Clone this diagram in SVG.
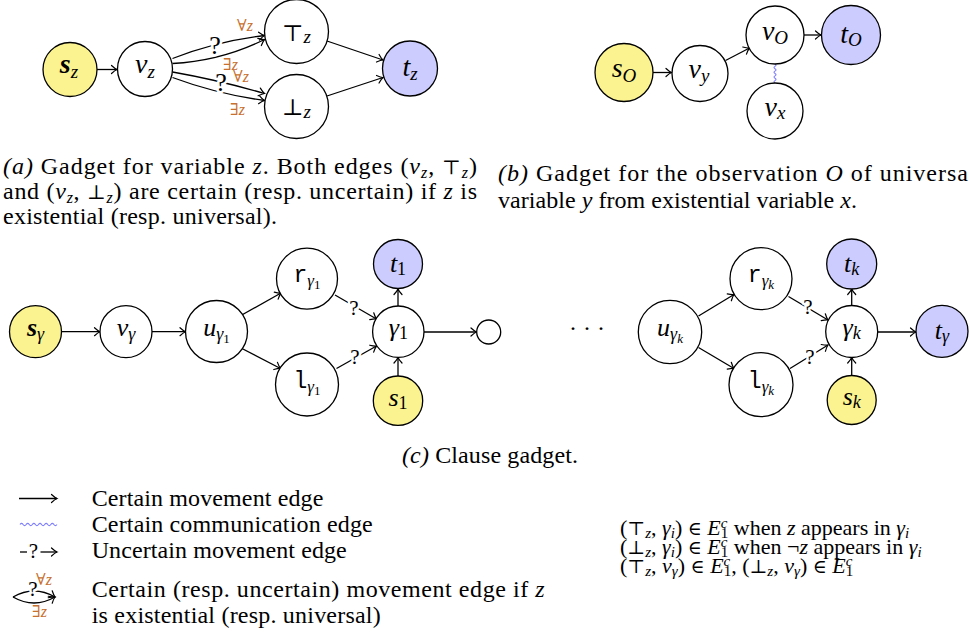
<svg xmlns="http://www.w3.org/2000/svg" width="969" height="636" viewBox="0 0 969 636">
<defs>
<style>
text{font-family:"Liberation Serif","Times New Roman",serif;fill:#000}
.i{font-style:italic}
.bi{font-style:italic;font-weight:bold}
.mono{font-family:"Liberation Mono","Courier New",monospace;font-style:normal}
.sym{font-family:"DejaVu Serif","DejaVu Sans",serif;font-style:normal}
.c{text-anchor:middle}
.nd{fill:#fff;stroke:#000;stroke-width:1.3}
.yl{fill:#FBF38F}
.bl{fill:#CCCCFF}
.e{fill:none;stroke:#000;stroke-width:1.3;marker-end:url(#ar)}
.ln{fill:none;stroke:#000;stroke-width:1.3}
.w{fill:none;stroke:#8080FF;stroke-width:1.1}
.q{font-size:21px;paint-order:stroke;stroke:#fff;stroke-width:5px;stroke-linejoin:round;text-anchor:middle}
.qa{font-size:26px}
.or{fill:#C8702E;font-size:16px}
.lb{font-size:28px}
.cl{font-size:26px}
.cap{font-size:24px}
.rl{font-size:22px}
</style>
<marker id="ar" viewBox="-7 -5 8 10" refX="0" refY="0" markerWidth="8" markerHeight="10" markerUnits="userSpaceOnUse" orient="auto" overflow="visible">
<path d="M-5.5,-4 Q-2,-0.8 0,0 Q-2,0.8 -5.5,4" fill="none" stroke="#000" stroke-width="1.2" stroke-linecap="round"/>
</marker>
</defs>
<rect width="969" height="636" fill="#fff"/>

<g id="connectors">
<path class="e" d="M97,69.5 L117,69.5"/>
<path class="e" d="M172.5,58.5 Q217,41 264.5,35.5"/>
<path class="e" d="M172.5,63.5 Q221,61 264.5,39.5"/>
<path class="e" d="M172.5,72 Q218,80 264.5,93.5"/>
<path class="e" d="M172.5,77.5 Q217,94 264.5,100.5"/>
<path class="e" d="M327,41 L383,60"/>
<path class="e" d="M327,96 L383,77.5"/>
<text class="q qa" x="215" y="54">?</text>
<text class="q qa" x="221" y="91">?</text>
<text class="or" x="237" y="31"><tspan class="sym">∀</tspan><tspan class="i">z</tspan></text>
<text class="or" x="223" y="70"><tspan class="sym">∃</tspan><tspan class="i">z</tspan></text>
<text class="or" x="233" y="82"><tspan class="sym">∀</tspan><tspan class="i">z</tspan></text>
<text class="or" x="230" y="115"><tspan class="sym">∃</tspan><tspan class="i">z</tspan></text>

<path class="e" d="M653,72.5 L671.5,72.5"/>
<path class="e" d="M725.5,60.5 L749.5,48"/>
<path class="e" d="M804,35 L821,35"/>
<path class="w" d="M775,64 q2,1.19 0,2.375 q-2,1.19 0,2.375 q2,1.19 0,2.375 q-2,1.19 0,2.375 q2,1.19 0,2.375 q-2,1.19 0,2.375 q2,1.19 0,2.375 q-2,1.19 0,2.375"/>

<path class="e" d="M61.5,331.7 L100,331.7"/>
<path class="e" d="M152,331.7 L185.5,331.7"/>
<path class="e" d="M240,316 L281,293"/>
<path class="e" d="M240,347.5 L280.5,368.5"/>
<path class="e" d="M335,295 L376.5,319"/>
<path class="e" d="M336.5,368.5 L376.5,346"/>
<text class="q" x="354" y="315">?</text>
<text class="q" x="355" y="364">?</text>
<path class="e" d="M398,306 L398,289"/>
<path class="e" d="M398,376 L398,357.5"/>
<path class="e" d="M424,332 L476.5,332"/>

<path class="e" d="M698.5,316 L734,294.5"/>
<path class="e" d="M698.5,347.5 L734,368.5"/>
<path class="e" d="M788.5,296.5 L828,320"/>
<path class="e" d="M790,368.5 L828,345"/>
<text class="q" x="808" y="314">?</text>
<text class="q" x="810" y="364">?</text>
<path class="e" d="M851.7,305.5 L851.7,289"/>
<path class="e" d="M851.7,375.5 L851.7,357.5"/>
<path class="e" d="M877.7,332 L916,332" stroke-width="1.6"/>
</g>

<g id="n-sz"><circle class="nd yl" cx="70" cy="69.5" r="27"/><text class="lb c" x="69" y="73"><tspan class="bi">s</tspan><tspan class="i" font-size="19" dy="5">z</tspan></text></g>
<g id="n-vz"><circle class="nd" cx="145" cy="69" r="27.5"/><text class="lb c" x="145" y="72.5"><tspan class="i">v</tspan><tspan class="i" font-size="19" dy="5">z</tspan></text></g>
<g id="n-topz"><circle class="nd" cx="296.5" cy="31.5" r="32"/><text class="lb c" x="296.5" y="40.5"><tspan class="sym" font-size="23">⊤</tspan><tspan class="i" font-size="19" dy="2">z</tspan></text></g>
<g id="n-botz"><circle class="nd" cx="296.5" cy="106.5" r="32"/><text class="lb c" x="296.5" y="114.5"><tspan class="sym" font-size="23">⊥</tspan><tspan class="i" font-size="19" dy="3">z</tspan></text></g>
<g id="n-tz"><circle class="nd bl" cx="410" cy="68.5" r="27.5"/><text class="lb c" x="410" y="76"><tspan class="i">t</tspan><tspan class="i" font-size="19" dy="4">z</tspan></text></g>

<g id="n-sO"><circle class="nd yl" cx="624" cy="72.5" r="29"/><text class="lb c" x="624" y="77"><tspan class="i">s</tspan><tspan class="i" font-size="19" dy="5">O</tspan></text></g>
<g id="n-vy"><circle class="nd" cx="700" cy="73.5" r="28"/><text class="lb c" x="699" y="77.5"><tspan class="i">v</tspan><tspan class="i" font-size="19" dy="4">y</tspan></text></g>
<g id="n-vO"><circle class="nd" cx="775" cy="35" r="29"/><text class="lb c" x="775" y="39.5"><tspan class="i">v</tspan><tspan class="i" font-size="19" dy="4">O</tspan></text></g>
<g id="n-tO"><circle class="nd bl" cx="851" cy="35" r="29.5"/><text class="lb c" x="851" y="43"><tspan class="i">t</tspan><tspan class="i" font-size="19" dy="3">O</tspan></text></g>
<g id="n-vx"><circle class="nd" cx="775" cy="111" r="28"/><text class="lb c" x="775" y="115.5"><tspan class="i">v</tspan><tspan class="i" font-size="19" dy="3">x</tspan></text></g>

<g id="n-sg"><circle class="nd yl" cx="35.5" cy="331.7" r="26"/><text class="cl c" x="35.5" y="335.5"><tspan class="bi">s</tspan><tspan class="i" font-size="18" dy="4">γ</tspan></text></g>
<g id="n-vg"><circle class="nd" cx="126" cy="331.7" r="26"/><text class="cl c" x="126" y="335.5"><tspan class="i">v</tspan><tspan class="i" font-size="18" dy="4">γ</tspan></text></g>
<g id="n-ug1"><circle class="nd" cx="216.5" cy="331.5" r="31"/><text class="cl c" x="216.5" y="335.5"><tspan class="i">u</tspan><tspan class="i" font-size="18" dy="4">γ</tspan><tspan font-size="13" dy="3">1</tspan></text></g>
<g id="n-r1"><circle class="nd" cx="307" cy="278.7" r="30.5"/><text class="cl c" x="307" y="281.5"><tspan class="mono" font-size="23">r</tspan><tspan class="i" font-size="17" dy="4">γ</tspan><tspan font-size="13" dy="3">1</tspan></text></g>
<g id="n-l1"><circle class="nd" cx="307" cy="384.5" r="31.5"/><text class="cl c" x="307" y="387.5"><tspan class="mono" font-size="23">l</tspan><tspan class="i" font-size="17" dy="4">γ</tspan><tspan font-size="13" dy="3">1</tspan></text></g>
<g id="n-t1"><circle class="nd bl" cx="398" cy="264" r="24.5"/><text class="cl c" x="398" y="271.5"><tspan class="i">t</tspan><tspan font-size="18" dy="3">1</tspan></text></g>
<g id="n-g1"><circle class="nd" cx="398.3" cy="331.7" r="25.7"/><text class="cl c" x="398.3" y="335.5"><tspan class="i">γ</tspan><tspan font-size="18" dy="3">1</tspan></text></g>
<g id="n-s1"><circle class="nd yl" cx="398" cy="400.7" r="24.7"/><text class="cl c" x="398" y="405.5"><tspan class="i">s</tspan><tspan font-size="18" dy="3">1</tspan></text></g>
<g id="n-end1"><circle class="nd" cx="488.7" cy="332" r="12"/></g>
<g id="dots"><text class="cap c" x="587" y="336">· · ·</text></g>
<g id="n-ugk"><circle class="nd" cx="670" cy="332" r="31.7"/><text class="cl c" x="670" y="336"><tspan class="i">u</tspan><tspan class="i" font-size="18" dy="4">γ</tspan><tspan class="i" font-size="13" dy="3">k</tspan></text></g>
<g id="n-rk"><circle class="nd" cx="761" cy="278.7" r="31"/><text class="cl c" x="761" y="281.5"><tspan class="mono" font-size="23">r</tspan><tspan class="i" font-size="17" dy="4">γ</tspan><tspan class="i" font-size="13" dy="3">k</tspan></text></g>
<g id="n-lk"><circle class="nd" cx="761" cy="384.7" r="32"/><text class="cl c" x="761" y="387.5"><tspan class="mono" font-size="23">l</tspan><tspan class="i" font-size="17" dy="4">γ</tspan><tspan class="i" font-size="13" dy="3">k</tspan></text></g>
<g id="n-tk"><circle class="nd bl" cx="851.7" cy="264" r="25"/><text class="cl c" x="851.7" y="271.5"><tspan class="i">t</tspan><tspan class="i" font-size="18" dy="3">k</tspan></text></g>
<g id="n-gk"><circle class="nd" cx="851.7" cy="331.5" r="26"/><text class="cl c" x="851.7" y="335.5"><tspan class="i">γ</tspan><tspan class="i" font-size="18" dy="3">k</tspan></text></g>
<g id="n-sk"><circle class="nd yl" cx="851.7" cy="400" r="24.5"/><text class="cl c" x="851.7" y="404.5"><tspan class="i">s</tspan><tspan class="i" font-size="18" dy="3">k</tspan></text></g>
<g id="n-tg"><circle class="nd bl" cx="942" cy="331.3" r="26"/><text class="cl c" x="942" y="338.5"><tspan class="i">t</tspan><tspan class="i" font-size="18" dy="3">γ</tspan></text></g>

<g id="captions">
<text class="cap" x="3" y="174" textLength="474" lengthAdjust="spacing"><tspan class="i">(a)</tspan> Gadget for variable <tspan class="i">z</tspan>. Both edges (<tspan class="i">v</tspan><tspan class="i" font-size="16" dy="4">z</tspan><tspan dy="-4">, </tspan><tspan class="sym" font-size="20">⊤</tspan><tspan class="i" font-size="16" dy="4">z</tspan><tspan dy="-4">)</tspan></text>
<text class="cap" x="3" y="199" textLength="474" lengthAdjust="spacing">and (<tspan class="i">v</tspan><tspan class="i" font-size="16" dy="4">z</tspan><tspan dy="-4">, </tspan><tspan class="sym" font-size="20">⊥</tspan><tspan class="i" font-size="16" dy="4">z</tspan><tspan dy="-4">) are certain (resp. uncertain) if </tspan><tspan class="i">z</tspan> is</text>
<text class="cap" x="3" y="224" textLength="274" lengthAdjust="spacing">existential (resp. universal).</text>
<text class="cap" x="498" y="181" textLength="470" lengthAdjust="spacing"><tspan class="i">(b)</tspan> Gadget for the observation <tspan class="i">O</tspan> of universa</text>
<text class="cap" x="498" y="208" textLength="359" lengthAdjust="spacing">variable <tspan class="i">y</tspan> from existential variable <tspan class="i">x</tspan>.</text>
<text class="cap" x="402" y="463" textLength="176" lengthAdjust="spacing"><tspan class="i">(c)</tspan> Clause gadget.</text>
</g>

<g id="legend">
<path class="e" d="M19,498.5 L57,498.5"/>
<path class="w" d="M20,524.5 q1.54,-2.2 3.08,0 q1.54,2.2 3.08,0 q1.54,-2.2 3.08,0 q1.54,2.2 3.08,0 q1.54,-2.2 3.08,0 q1.54,2.2 3.08,0 q1.54,-2.2 3.08,0 q1.54,2.2 3.08,0 q1.54,-2.2 3.08,0 q1.54,2.2 3.08,0 q1.54,-2.2 3.08,0 q1.54,2.2 3.08,0"/>
<path class="ln" d="M20,552 L27,552"/>
<text x="33.5" y="558" font-size="21" class="c">?</text>
<path class="e" d="M40.5,552 L57,552"/>
<path class="e" d="M13,597 Q34,585 55,597"/>
<path class="e" d="M13,597 Q34,609 55,597"/>
<text class="q" x="33" y="596">?</text>
<text class="or" x="36" y="585"><tspan class="sym">∀</tspan><tspan class="i">z</tspan></text>
<text class="or" x="32" y="617"><tspan class="sym">∃</tspan><tspan class="i">z</tspan></text>
<text class="cap" x="91.7" y="506" textLength="231.6" lengthAdjust="spacing">Certain movement edge</text>
<text class="cap" x="91.7" y="532" textLength="281" lengthAdjust="spacing">Certain communication edge</text>
<text class="cap" x="91.7" y="558" textLength="255" lengthAdjust="spacing">Uncertain movement edge</text>
<text class="cap" x="91.7" y="597" textLength="453" lengthAdjust="spacing">Certain (resp. uncertain) movement edge if <tspan class="i">z</tspan></text>
<text class="cap" x="91.7" y="623" textLength="289" lengthAdjust="spacing">is existential (resp. universal)</text>
<text class="rl" x="620" y="535">(<tspan class="sym" font-size="19">⊤</tspan><tspan class="i" font-size="15" dy="3">z</tspan><tspan dy="-3">, </tspan><tspan class="i">γ</tspan><tspan class="i" font-size="15" dy="3">i</tspan><tspan dy="-3">) </tspan><tspan class="sym" font-size="19">∈</tspan> <tspan class="i">E</tspan><tspan class="i" font-size="15" dy="-7">c</tspan><tspan font-size="15" dx="-6.6" dy="10">1</tspan><tspan dy="-3"> when </tspan><tspan class="i">z</tspan> appears in <tspan class="i">γ</tspan><tspan class="i" font-size="15" dy="3">i</tspan></text>
<text class="rl" x="620" y="554">(<tspan class="sym" font-size="19">⊥</tspan><tspan class="i" font-size="15" dy="3">z</tspan><tspan dy="-3">, </tspan><tspan class="i">γ</tspan><tspan class="i" font-size="15" dy="3">i</tspan><tspan dy="-3">) </tspan><tspan class="sym" font-size="19">∈</tspan> <tspan class="i">E</tspan><tspan class="i" font-size="15" dy="-7">c</tspan><tspan font-size="15" dx="-6.6" dy="10">1</tspan><tspan dy="-3"> when ¬</tspan><tspan class="i">z</tspan> appears in <tspan class="i">γ</tspan><tspan class="i" font-size="15" dy="3">i</tspan></text>
<text class="rl" x="620" y="573">(<tspan class="sym" font-size="19">⊤</tspan><tspan class="i" font-size="15" dy="3">z</tspan><tspan dy="-3">, </tspan><tspan class="i">v</tspan><tspan class="i" font-size="15" dy="3">γ</tspan><tspan dy="-3">) </tspan><tspan class="sym" font-size="19">∈</tspan> <tspan class="i">E</tspan><tspan class="i" font-size="15" dy="-7">c</tspan><tspan font-size="15" dx="-6.6" dy="10">1</tspan><tspan dy="-3">, (</tspan><tspan class="sym" font-size="19">⊥</tspan><tspan class="i" font-size="15" dy="3">z</tspan><tspan dy="-3">, </tspan><tspan class="i">v</tspan><tspan class="i" font-size="15" dy="3">γ</tspan><tspan dy="-3">) </tspan><tspan class="sym" font-size="19">∈</tspan> <tspan class="i">E</tspan><tspan class="i" font-size="15" dy="-7">c</tspan><tspan font-size="15" dx="-6.6" dy="10">1</tspan></text>
</g>
</svg>
